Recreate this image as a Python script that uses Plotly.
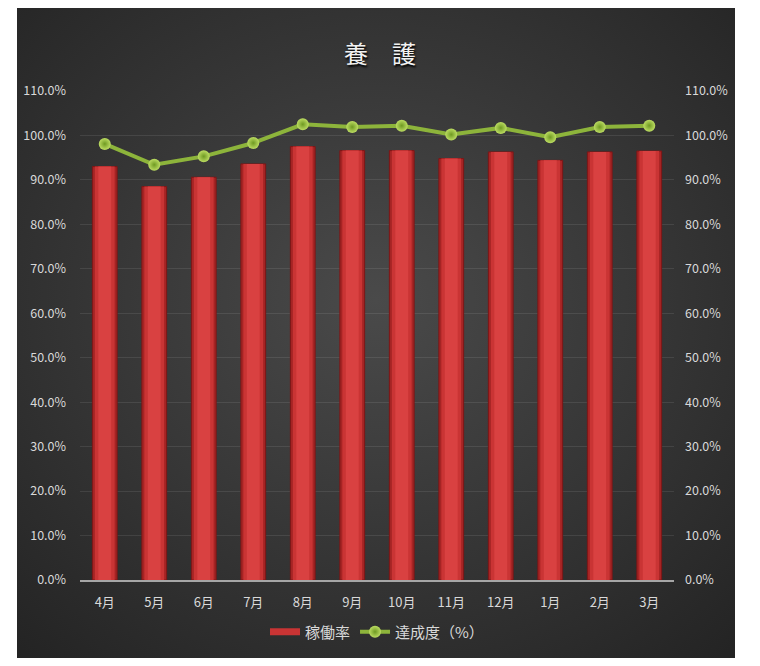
import base64
import plotly.graph_objects as go

# Monthly figures (percent)
months = ["4月", "5月", "6月", "7月", "8月", "9月", "10月", "11月", "12月", "1月", "2月", "3月"]
operating_rate = [93.0, 88.5, 90.6, 93.6, 97.5, 96.6, 96.6, 94.8, 96.3, 94.4, 96.3, 96.5]
achievement = [98.1, 93.4, 95.3, 98.3, 102.5, 101.9, 102.2, 100.2, 101.7, 99.6, 101.9, 102.2]
tick_values = [0, 10, 20, 30, 40, 50, 60, 70, 80, 90, 100, 110]

FONT = "Noto Sans CJK JP"
LABEL = "#d9d9d9"

fig = go.Figure()

# Bars: stacked widths in overlay mode give a shaded cylinder look
fig.add_trace(go.Bar(
    x=months, y=operating_rate, name="稼働率", width=0.5, showlegend=False,
    marker=dict(color="#a52424", line=dict(color="#7e1616", width=1)),
    hoverinfo="y",
))
fig.add_trace(go.Bar(
    x=months, y=operating_rate, width=0.40, showlegend=False,
    marker=dict(color="#c93434", line=dict(width=0)), hoverinfo="skip",
))
fig.add_trace(go.Bar(
    x=months, y=operating_rate, width=0.26, showlegend=False,
    marker=dict(color="#d94141", line=dict(width=0)), hoverinfo="skip",
))

# Legend key for the bars, drawn as a wide red strip
fig.add_trace(go.Scatter(
    x=[None], y=[None], name="稼働率", mode="lines",
    line=dict(color="#c93434", width=7), hoverinfo="skip",
))

# Achievement line on the secondary axis
fig.add_trace(go.Scatter(
    x=months, y=achievement, name="達成度（%）", yaxis="y2",
    mode="lines+markers",
    line=dict(color="#8db43b", width=4),
    marker=dict(size=12, color="#bcdc62",
                gradient=dict(type="radial", color="#6f9a22"),
                line=dict(width=0)),
))

# Dark panel with a soft radial glow behind the chart
svg = (
    '<svg xmlns="http://www.w3.org/2000/svg" width="718" height="650" '
    'viewBox="0 0 718 650" preserveAspectRatio="none">'
    '<defs><radialGradient id="g" cx="50%" cy="45%" r="75%">'
    '<stop offset="0%" stop-color="#4a4a4a"/>'
    '<stop offset="100%" stop-color="#232323"/>'
    '</radialGradient></defs>'
    '<rect width="718" height="650" fill="url(#g)"/></svg>'
)
svg_uri = "data:image/svg+xml;base64," + base64.b64encode(svg.encode()).decode()

W, H = 760, 666
ml, mr, mt, mb = 80, 86, 91, 86
pw, ph = W - ml - mr, H - mt - mb

def px_x(p):
    return (p - ml) / pw

def px_y(p):
    return (H - mb - p) / ph

fig.add_layout_image(dict(
    source=svg_uri, xref="paper", yref="paper",
    x=px_x(17), y=px_y(8), sizex=718 / pw, sizey=650 / ph,
    xanchor="left", yanchor="top", sizing="stretch", layer="below",
))

axis_common = dict(
    range=[0, 110], tickvals=tick_values,
    ticktext=[f"{v:.1f}%" for v in tick_values],
    tickfont=dict(family=FONT, size=12.5, color=LABEL),
    showline=False, zeroline=False, ticks="",
    fixedrange=True, automargin=False,
)

fig.update_layout(
    width=W, height=H,
    margin=dict(l=ml, r=mr, t=mt, b=mb, autoexpand=False),
    paper_bgcolor="white",
    plot_bgcolor="rgba(0,0,0,0)",
    barmode="overlay",
    title=dict(
        text="養　護", x=0.5, xanchor="center", xref="container",
        y=1 - 55 / H, yanchor="middle", yref="container",
        font=dict(family=FONT, size=24, color="#f2f2f2",
                  shadow="1px 2px 2px #000000"),
    ),
    xaxis=dict(
        range=[-0.5, 11.5], automargin=False,
        showgrid=False, showline=True, linecolor="#a6a6a6", linewidth=1.5,
        ticks="", tickfont=dict(family=FONT, size=13, color=LABEL),
        ticklabelstandoff=10,
    ),
    yaxis=dict(
        **axis_common, showgrid=True, gridcolor="rgba(255,255,255,0.09)",
        gridwidth=1, ticklabelstandoff=13,
    ),
    yaxis2=dict(
        **axis_common, overlaying="y", side="right", showgrid=False,
        ticklabelstandoff=10,
    ),
    legend=dict(
        orientation="h", x=0.5, xanchor="center", y=px_y(632),
        yanchor="middle", font=dict(family=FONT, size=15, color=LABEL),
        bgcolor="rgba(0,0,0,0)",
    ),
    showlegend=True,
)

fig.write_html("out.html")
